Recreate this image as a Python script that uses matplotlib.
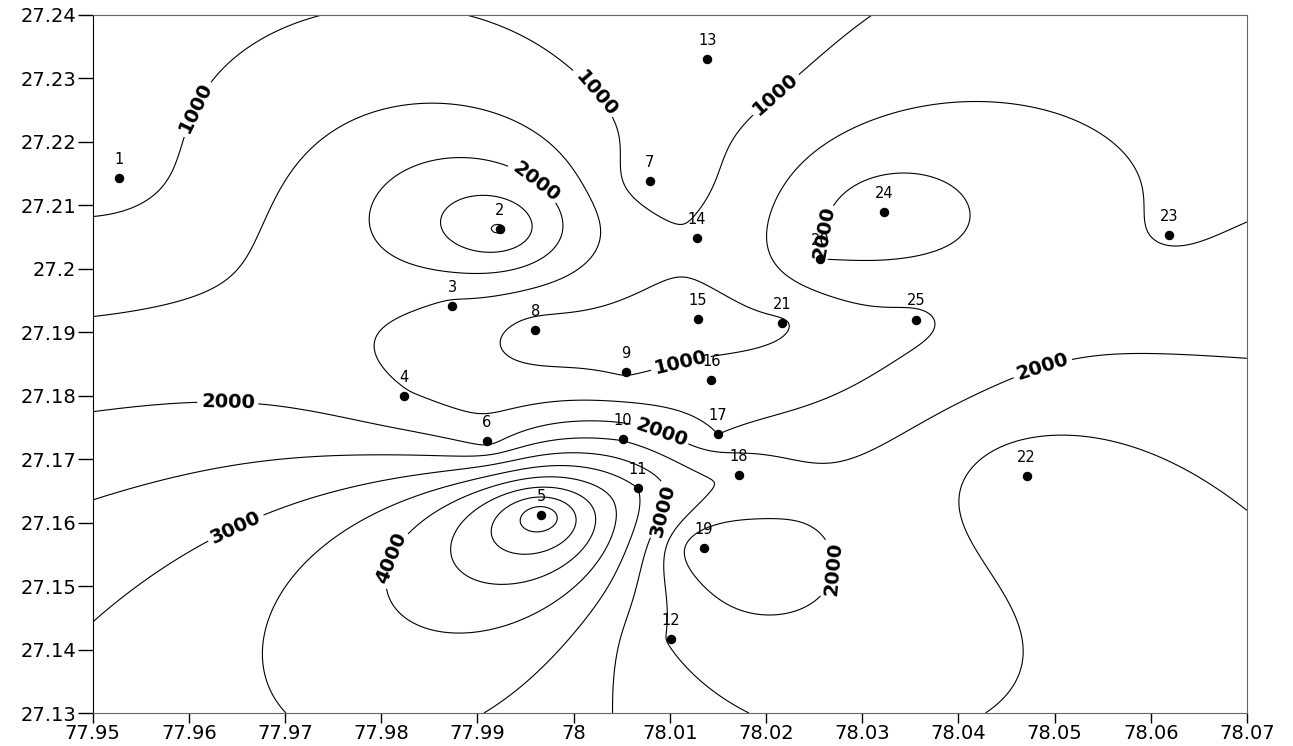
import numpy as np
import matplotlib
matplotlib.use("Agg")
import matplotlib.pyplot as plt

# ------------------------------
# well locations (lon, lat) and measured values
# ------------------------------
well_ids = [str(i) for i in range(1, 26)]
lon = [77.9527, 77.9923, 77.9874, 77.9824, 77.9966, 77.9910, 78.0079, 77.9960,
       78.0054, 78.0051, 78.0067, 78.0101, 78.0139, 78.0128, 78.0129, 78.0143,
       78.0150, 78.0172, 78.0135, 78.0256, 78.0217, 78.0471, 78.0619, 78.0323,
       78.0356]
lat = [27.2143, 27.2062, 27.1942, 27.1800, 27.1612, 27.1729, 27.2138, 27.1903,
       27.1837, 27.1732, 27.1654, 27.1417, 27.2331, 27.2049, 27.1921, 27.1825,
       27.1739, 27.1675, 27.1560, 27.2015, 27.1914, 27.1673, 27.2053, 27.2090,
       27.1920]
value = [800, 3100, 1400, 1550, 5950, 1800, 700, 800, 950, 2450, 3500, 2450,
         650, 1020, 850, 1200, 1500, 2500, 1500, 2000, 950, 2850, 1450, 2400,
         1400]

minor_levels = [1500, 2500, 3500, 4500, 5500]
major_levels = [1000, 2000, 3000, 4000, 5000]
xticks = [77.95, 77.96, 77.97, 77.98, 77.99, 78.0, 78.01, 78.02, 78.03, 78.04, 78.05, 78.06, 78.07]
yticks = [27.13, 27.14, 27.15, 27.16, 27.17, 27.18, 27.19, 27.2, 27.21, 27.22, 27.23, 27.24]
xlabels = ["77.95", "77.96", "77.97", "77.98", "77.99", "78", "78.01", "78.02", "78.03", "78.04", "78.05", "78.06", "78.07"]
ylabels = ["27.13", "27.14", "27.15", "27.16", "27.17", "27.18", "27.19", "27.2", "27.21", "27.22", "27.23", "27.24"]

# where the contour values are written
label_pos = [(77.9612, 27.2250), (78.0012, 27.2261), (78.0215, 27.2266), (78.0111, 27.1856),
             (77.9958, 27.2132), (78.0263, 27.2056), (77.9641, 27.1798), (78.0090, 27.1735),
             (78.0492, 27.1825), (78.0285, 27.1525), (77.9633, 27.1643), (78.0100, 27.1615),
             (77.9820, 27.1538)]

# ------------------------------
# gridding: kriging with a linear variogram
# ------------------------------
px = np.array(lon)
py = np.array(lat)
pz = np.array(value, dtype=float)
n = len(px)

d = np.hypot(px[:, None] - px[None, :], py[:, None] - py[None, :])
A = np.zeros((n + 1, n + 1))
A[:n, :n] = d
A[:n, n] = 1
A[n, :n] = 1
coef = np.linalg.solve(A, np.append(pz, 0))

gx = np.linspace(77.95, 78.07, 300)
gy = np.linspace(27.13, 27.24, 300)
GX, GY = np.meshgrid(gx, gy)
dist = np.hypot(GX[..., None] - px, GY[..., None] - py)
Z = dist @ coef[:n] + coef[n]

# ------------------------------
# plot
# ------------------------------
plt.rcParams["font.family"] = "DejaVu Sans"
fig = plt.figure(figsize=(12.93, 7.46), dpi=100)
ax = fig.add_axes([0.0717, 0.0442, 0.8927, 0.9357])

ax.contour(GX, GY, Z, levels=minor_levels, colors="black", linewidths=0.8)
cs = ax.contour(GX, GY, Z, levels=major_levels, colors="black", linewidths=0.8)
ax.clabel(cs, fmt="%d", fontsize=14, inline=True, inline_spacing=6, manual=label_pos)
for t in cs.labelTexts:
    t.set_fontweight("bold")

ax.plot(lon, lat, "o", color="black", markersize=5.8, zorder=5)
for name, x, y in zip(well_ids, lon, lat):
    ax.annotate(name, (x, y), xytext=(0, 8), textcoords="offset points",
                ha="center", va="bottom", fontsize=10.5, zorder=6)

ax.set_xlim(77.95, 78.07)
ax.set_ylim(27.13, 27.24)
ax.set_xticks(xticks)
ax.set_xticklabels(xlabels)
ax.set_yticks(yticks)
ax.set_yticklabels(ylabels)
ax.tick_params(axis="y", direction="out", length=11, width=1, labelsize=14, pad=1)
ax.tick_params(axis="x", direction="out", length=7, width=1, labelsize=14, pad=1)
for side in ["top", "right", "bottom"]:
    ax.spines[side].set_color("#666666")
ax.spines["left"].set_color("black")

fig.savefig("out.png", dpi=100)
